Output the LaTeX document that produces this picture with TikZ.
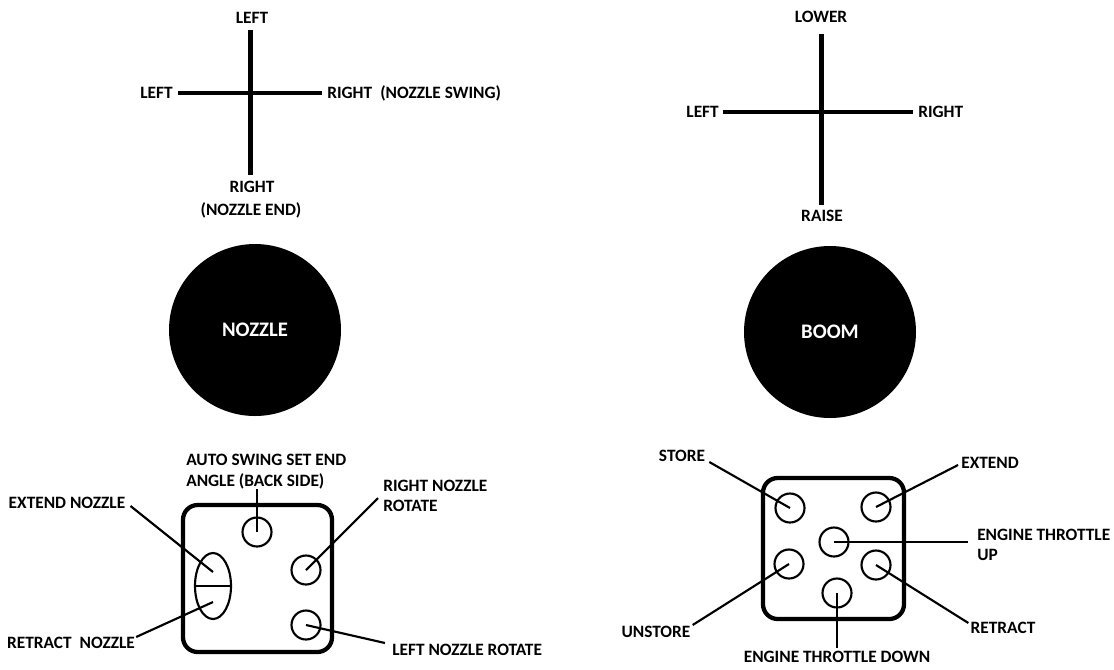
\documentclass[tikz,border=0pt]{standalone}
\usepackage{fontspec}
\setmainfont{Carlito}
\usetikzlibrary{shapes.geometric}
\begin{document}
\begin{tikzpicture}[x=0.75pt,y=-0.75pt,
  lbl/.style={font=\fontsize{13}{15.5}\selectfont\bfseries, inner sep=0pt, align=left},
  axis/.style={line width=3.4pt},
  lead/.style={line width=1.6pt},
  btn/.style={circle, draw, line width=1.6pt, minimum size=21.75pt, inner sep=0pt},
  joy/.style={circle, fill=black, minimum size=129pt, inner sep=0pt, text=white,
              font=\fontsize{15.5}{18}\selectfont\bfseries},
  pad/.style={draw, line width=3.2pt, rounded corners=11pt, inner sep=0pt}]
\useasboundingbox (0,0) rectangle (1114,669);

% ---------- left cross (nozzle) ----------
\coordinate (lT) at (250.7,30);
\coordinate (lB) at (250.7,175);
\coordinate (lL) at (177.7,93);
\coordinate (lR) at (321.7,93);
\draw[axis] (lT) -- (lB);
\draw[axis] (lL) -- (lR);
\node[lbl] (lTop) at (252,18) {LEFT};
\node[lbl, anchor=east] (lLeft) at (173,93) {LEFT};
\node[lbl, anchor=west] (lRight) at (327,93) {RIGHT};
\node[lbl, anchor=west] (lSwing) at (380,93) {(NOZZLE SWING)};
\node[lbl] (lBot) at (252,187) {RIGHT};
\node[lbl] (lEnd) at (251,210) {(NOZZLE END)};

% ---------- right cross (boom) ----------
\coordinate (rT) at (821.7,34);
\coordinate (rB) at (821.7,205);
\coordinate (rL) at (723,112);
\coordinate (rR) at (913,112);
\draw[axis] (rT) -- (rB);
\draw[axis] (rL) -- (rR);
\node[lbl] (rTop) at (821,17) {LOWER};
\node[lbl, anchor=east] (rLeft) at (719,112) {LEFT};
\node[lbl, anchor=west] (rRight) at (918,112) {RIGHT};
\node[lbl] (rBot) at (822,216) {RAISE};

% ---------- joysticks ----------
\node[joy] (nozzle) at (255,330) {NOZZLE};
\node[joy] (boom) at (830,332) {BOOM};

% ---------- left control pad ----------
\node[pad, minimum width=111.75pt, minimum height=110.25pt] (padL) at (257.5,578.5) {};
\node[btn] (bAuto) at (257,532) {};
\node[ellipse, draw, line width=1.6pt, minimum width=27pt, minimum height=49.5pt, inner sep=0pt] (bExt) at (213,586) {};
\draw[lead] (bExt.west) -- (bExt.east);
\node[btn] (bRR) at (306,570) {};
\node[btn] (bLR) at (306,625) {};

\node[lbl, anchor=west] (tAuto) at (186,471.5) {AUTO SWING SET END\\ANGLE (BACK SIDE)};
\node[lbl, anchor=west] (tRR) at (383,496) {RIGHT NOZZLE\\ROTATE};
\node[lbl, anchor=west] (tLR) at (392,650) {LEFT NOZZLE ROTATE};
\node[lbl] (tExt) at (67,503) {EXTEND NOZZLE};
\node[lbl] (tRet) at (71,643) {RETRACT\ \ NOZZLE};

\draw[lead] (bAuto.center) -- (bAuto.center |- tAuto.south);
\draw[lead] ([shift={(-5,2)}]tRR.west) -- (bRR.center);
\draw[lead] (bLR.center) -- ([shift={(-7,-7)}]tLR.west);
\draw[lead] ([shift={(5,3)}]tExt.east) -- ([yshift=10.5pt]bExt.center);
\draw[lead] ([shift={(1,-6)}]tRet.east) -- ([yshift=-12pt]bExt.center);

% ---------- right control pad ----------
\node[pad, minimum width=105.75pt, minimum height=105.75pt] (padR) at (833.5,548.5) {};
\node[btn] (bStore) at (790,508) {};
\node[btn] (bExtend) at (876,507) {};
\node[btn] (bUp) at (834,542) {};
\node[btn] (bUnstore) at (789,564) {};
\node[btn] (bRetract) at (876,565) {};
\node[btn] (bDown) at (837,593) {};

\node[lbl] (tStore) at (682,456) {STORE};
\node[lbl] (tExtend) at (990,463) {EXTEND};
\node[lbl, anchor=west] (tUp) at (977,545) {ENGINE THROTTLE\\UP};
\node[lbl] (tUnstore) at (656,632) {UNSTORE};
\node[lbl] (tRetract) at (1003,628) {RETRACT};
\node[lbl] (tDown) at (837,657) {ENGINE THROTTLE DOWN};

\draw[lead] ([shift={(4,6)}]tStore.east) -- (bStore.center);
\draw[lead] (bExtend.center) -- ([shift={(-3,2)}]tExtend.west);
\draw[lead] (bUp.center) -- ([shift={(-9,-3)}]tUp.west);
\draw[lead] ([shift={(2,-7)}]tUnstore.east) -- (bUnstore.center);
\draw[lead] (bRetract.center) -- ([shift={(-2,-5)}]tRetract.west);
\draw[lead] (bDown.center) -- ([yshift=2pt]bDown.center |- tDown.north);
\end{tikzpicture}
\end{document}
